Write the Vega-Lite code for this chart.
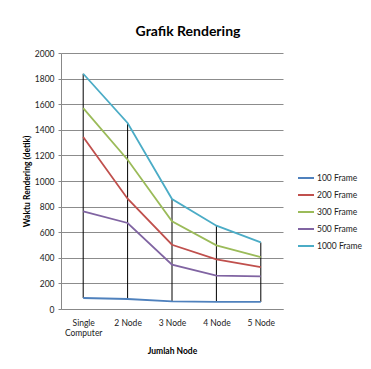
{
  "$schema": "https://vega.github.io/schema/vega-lite/v6.json",
  "width": 222,
  "height": 256,
  "autosize": {"type": "none"},
  "padding": {"left": 61, "top": 53, "right": 88, "bottom": 60},
  "background": "white",
  "title": {
    "text": "Grafik Rendering",
    "font": "Lato",
    "fontSize": 14,
    "fontWeight": "bold",
    "color": "#000000",
    "anchor": "middle",
    "dx": 16,
    "offset": 10
  },
  "data": {
    "values": [
      {"node": "Single Computer", "series": "100 Frame", "value": 86},
      {"node": "2 Node", "series": "100 Frame", "value": 78},
      {"node": "3 Node", "series": "100 Frame", "value": 60},
      {"node": "4 Node", "series": "100 Frame", "value": 55},
      {"node": "5 Node", "series": "100 Frame", "value": 55},
      {"node": "Single Computer", "series": "200 Frame", "value": 1344},
      {"node": "2 Node", "series": "200 Frame", "value": 862},
      {"node": "3 Node", "series": "200 Frame", "value": 502},
      {"node": "4 Node", "series": "200 Frame", "value": 388},
      {"node": "5 Node", "series": "200 Frame", "value": 328},
      {"node": "Single Computer", "series": "300 Frame", "value": 1570},
      {"node": "2 Node", "series": "300 Frame", "value": 1166},
      {"node": "3 Node", "series": "300 Frame", "value": 685},
      {"node": "4 Node", "series": "300 Frame", "value": 497},
      {"node": "5 Node", "series": "300 Frame", "value": 406},
      {"node": "Single Computer", "series": "500 Frame", "value": 763},
      {"node": "2 Node", "series": "500 Frame", "value": 672},
      {"node": "3 Node", "series": "500 Frame", "value": 346},
      {"node": "4 Node", "series": "500 Frame", "value": 260},
      {"node": "5 Node", "series": "500 Frame", "value": 255},
      {"node": "Single Computer", "series": "1000 Frame", "value": 1838},
      {"node": "2 Node", "series": "1000 Frame", "value": 1453},
      {"node": "3 Node", "series": "1000 Frame", "value": 859},
      {"node": "4 Node", "series": "1000 Frame", "value": 651},
      {"node": "5 Node", "series": "1000 Frame", "value": 520}
    ]
  },
  "encoding": {
    "x": {
      "field": "node",
      "type": "nominal",
      "sort": ["Single Computer", "2 Node", "3 Node", "4 Node", "5 Node"],
      "scale": {"type": "point", "padding": 0.5},
      "axis": {
        "title": "Jumlah Node",
        "titleFont": "Lato",
        "titleFontSize": 8.5,
        "titleFontWeight": "bold",
        "titleColor": "#000000",
        "titlePadding": 10,
        "labelFont": "Lato",
        "labelFontSize": 8.5,
        "labelColor": "#222222",
        "labelAngle": 0,
        "labelPadding": 9,
        "labelLineHeight": 10,
        "labelExpr": "datum.label == 'Single Computer' ? ['Single', 'Computer'] : datum.label",
        "ticks": false,
        "domainColor": "#888888",
        "grid": false
      }
    }
  },
  "layer": [
    {
      "mark": {"type": "rule", "color": "#000000", "strokeWidth": 1},
      "encoding": {
        "y": {
          "aggregate": "min",
          "field": "value",
          "type": "quantitative",
          "scale": {"domain": [0, 2000]},
          "title": "Waktu Rendering (detik)"
        },
        "y2": {"aggregate": "max", "field": "value"}
      }
    },
    {
      "mark": {"type": "line", "strokeWidth": 1.8},
      "encoding": {
        "y": {
          "field": "value",
          "type": "quantitative",
          "scale": {"domain": [0, 2000]},
          "title": "Waktu Rendering (detik)"
        },
        "color": {
          "field": "series",
          "type": "nominal",
          "sort": ["100 Frame", "200 Frame", "300 Frame", "500 Frame", "1000 Frame"],
          "scale": {
            "domain": ["100 Frame", "200 Frame", "300 Frame", "500 Frame", "1000 Frame"],
            "range": ["#4F81BD", "#C0504D", "#9BBB59", "#8064A2", "#4BACC6"]
          },
          "legend": {
            "title": null,
            "orient": "none",
            "legendX": 236,
            "legendY": 116,
            "symbolType": "stroke",
            "symbolSize": 256,
            "symbolStrokeWidth": 2,
            "labelFont": "Lato",
            "labelFontSize": 8.5,
            "labelColor": "#222222",
            "labelOffset": 2,
            "rowPadding": 3,
            "labelLimit": 80
          }
        }
      }
    }
  ],
  "config": {
    "view": {"stroke": null},
    "axisY": {
      "titleFont": "Lato",
      "titleFontSize": 8.5,
      "titleFontWeight": "bold",
      "titleColor": "#000000",
      "titlePadding": 3,
      "labelFont": "Lato",
      "labelFontSize": 8.5,
      "labelColor": "#222222",
      "labelPadding": 4,
      "labelOverlap": false,
      "format": "d",
      "values": [0, 200, 400, 600, 800, 1000, 1200, 1400, 1600, 1800, 2000],
      "tickSize": 3,
      "tickColor": "#888888",
      "domainColor": "#888888",
      "gridColor": "#8c8c8c",
      "gridWidth": 1
    }
  }
}
